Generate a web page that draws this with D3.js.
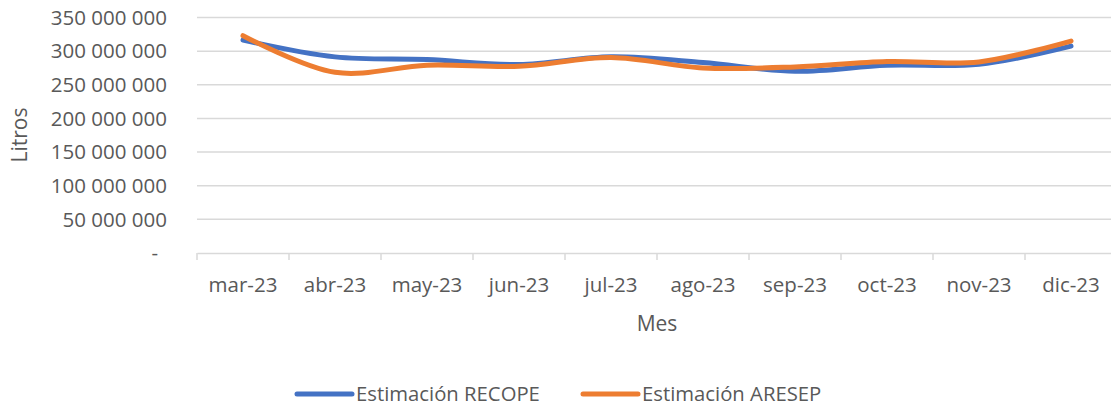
<!DOCTYPE html>
<html>
<head>
<meta charset="utf-8">
<script src="https://cdn.jsdelivr.net/npm/d3@7"></script>
<style>
  body { margin: 0; background: #fff; }
  svg { display: block; font-family: "Open Sans", sans-serif; }
</style>
</head>
<body>
<div id="chart"></div>
<script>
// month categories
const months = ["mar-23", "abr-23", "may-23", "jun-23", "jul-23", "ago-23", "sep-23", "oct-23", "nov-23", "dic-23"];
// litros per month
const recope = [316500000, 291500000, 287500000, 280000000, 291500000, 283000000, 270000000, 279000000, 280500000, 307500000];
const aresep = [323000000, 268500000, 279000000, 277500000, 290500000, 275000000, 276500000, 284500000, 284000000, 315000000];
const yTicks = [0, 50000000, 100000000, 150000000, 200000000, 250000000, 300000000, 350000000];

const width = 1111, height = 407;
const textColor = "#595959";

const svg = d3.select("#chart")
  .append("svg")
  .attr("width", width)
  .attr("height", height);

// scales
const x = d3.scaleBand()
  .domain(months)
  .range([197, 1117]);

const y = d3.scaleLinear()
  .domain([0, 350000000])
  .range([253, 17.5]);

// format numbers with space thousands separator, zero as dash
const fmt = function (v) {
  if (v === 0) return "-";
  return d3.format(",")(v).replace(/,/g, " ");
};

// gridlines
svg.append("g")
  .selectAll("line")
  .data(yTicks.filter(d => d > 0))
  .enter()
  .append("line")
  .attr("x1", 197)
  .attr("x2", 1117)
  .attr("y1", d => y(d))
  .attr("y2", d => y(d))
  .attr("stroke", "#d9d9d9")
  .attr("stroke-width", 1.5);

// y tick labels
svg.append("g")
  .selectAll("text")
  .data(yTicks)
  .enter()
  .append("text")
  .attr("x", d => d === 0 ? 158 : 167)
  .attr("y", d => y(d))
  .attr("dy", "0.35em")
  .attr("text-anchor", "end")
  .attr("font-size", "20.5px")
  .attr("fill", textColor)
  .text(fmt);

// x axis
const xAxis = d3.axisBottom(x)
  .tickSize(0)
  .tickPadding(0);

const gx = svg.append("g")
  .attr("transform", "translate(0," + y(0) + ")")
  .call(xAxis);
gx.select(".domain")
  .attr("stroke", "#d9d9d9")
  .attr("stroke-width", 1.5);
gx.selectAll(".tick text")
  .attr("y", 32)
  .attr("dy", "0.35em")
  .attr("font-size", "20.5px")
  .attr("font-family", "Open Sans, sans-serif")
  .attr("fill", textColor);

// tick marks between categories
const bounds = months.map(m => x(m)).concat([x(months[months.length - 1]) + x.step()]);
svg.append("g")
  .selectAll("line")
  .data(bounds)
  .enter()
  .append("line")
  .attr("x1", d => d)
  .attr("x2", d => d)
  .attr("y1", y(0))
  .attr("y2", y(0) + 7)
  .attr("stroke", "#d9d9d9")
  .attr("stroke-width", 1.5);

// axis titles
svg.append("text")
  .attr("transform", "translate(20," + 135 + ") rotate(-90)")
  .attr("text-anchor", "middle")
  .attr("dy", "0.35em")
  .attr("font-size", "21px")
  .attr("fill", textColor)
  .text("Litros");

svg.append("text")
  .attr("x", 657)
  .attr("y", 324)
  .attr("dy", "0.35em")
  .attr("text-anchor", "middle")
  .attr("font-size", "21px")
  .attr("fill", textColor)
  .text("Mes");

// lines
const series = [
  { name: "Estimación RECOPE", values: recope, color: "#4472C4" },
  { name: "Estimación ARESEP", values: aresep, color: "#ED7D31" }
];

const line = d3.line()
  .x((d, i) => x(months[i]) + x.bandwidth() / 2)
  .y(d => y(d))
  .curve(d3.curveCatmullRom.alpha(0.5));

svg.append("g")
  .selectAll("path")
  .data(series)
  .enter()
  .append("path")
  .attr("d", d => line(d.values))
  .attr("fill", "none")
  .attr("stroke", d => d.color)
  .attr("stroke-width", 5)
  .attr("stroke-linecap", "round")
  .attr("stroke-linejoin", "round");

// legend
const legendX = [297, 583];
const legend = svg.append("g")
  .selectAll("g")
  .data(series)
  .enter()
  .append("g")
  .attr("transform", (d, i) => "translate(" + legendX[i] + ",394)");

legend.append("line")
  .attr("x1", 0)
  .attr("x2", 55)
  .attr("stroke", d => d.color)
  .attr("stroke-width", 5)
  .attr("stroke-linecap", "round");

legend.append("text")
  .attr("x", 59)
  .attr("dy", "0.35em")
  .attr("font-size", "20.3px")
  .attr("fill", textColor)
  .text(d => d.name);
</script>
</body>
</html>
